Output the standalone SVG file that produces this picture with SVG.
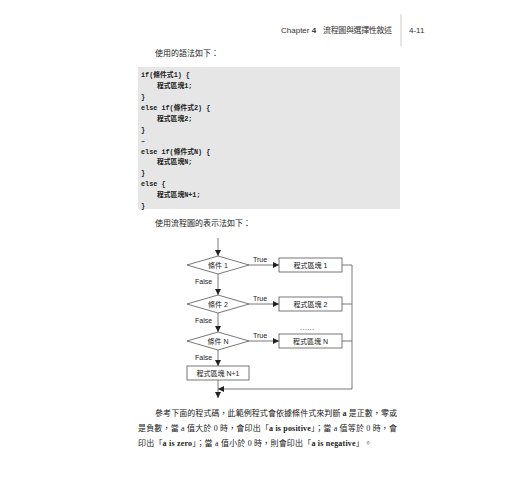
<svg xmlns="http://www.w3.org/2000/svg" width="520" height="500" viewBox="0 0 520 500">
<style>
.hdr{font-family:"Liberation Sans","Noto Sans CJK TC",sans-serif;font-size:8px;fill:#333}
.body{font-family:"Liberation Serif","Noto Sans CJK TC",serif;font-size:8px;fill:#222}
.code{font-family:"Liberation Mono","Noto Sans CJK TC",monospace;font-size:6.8px;font-weight:bold;fill:#222}
.lbl{font-family:"Liberation Sans","Noto Sans CJK TC",sans-serif;font-size:7px;fill:#222}
.shape{fill:#fff;stroke:#555;stroke-width:0.8}
.ln{fill:none;stroke:#555;stroke-width:0.8}
</style>
<defs>
<marker id="ah" viewBox="0 0 10 10" refX="10" refY="5" markerWidth="6" markerHeight="6" orient="auto" markerUnits="userSpaceOnUse">
<path d="M0,0 L10,5 L0,10 z" fill="#222"/>
</marker>
</defs>
<rect width="520" height="500" fill="#fff"/>
<!-- header -->
<text class="hdr" x="281" y="33">Chapter <tspan font-weight="bold">4</tspan></text>
<text class="hdr" x="323" y="33" textLength="69" lengthAdjust="spacing">流程圖與選擇性敘述</text>
<line x1="401" y1="14" x2="401" y2="46" stroke="#ccc" stroke-width="1"/>
<text class="hdr" x="409" y="33" font-size="6.5">4-11</text>
<text class="body" x="155" y="56">使用的語法如下：</text>
<!-- code box -->
<rect x="138" y="67" width="262" height="142" fill="#e6e6e6"/>
<g class="code">
<text x="141" y="77">if(條件式1) {</text>
<text x="157" y="88">程式區塊1;</text>
<text x="141" y="99">}</text>
<text x="141" y="110">else if(條件式2) {</text>
<text x="157" y="121">程式區塊2;</text>
<text x="141" y="132">}</text>
<text x="141" y="143">–</text>
<text x="141" y="154">else if(條件式N) {</text>
<text x="157" y="164">程式區塊N;</text>
<text x="141" y="175">}</text>
<text x="141" y="186">else {</text>
<text x="157" y="197">程式區塊N+1;</text>
<text x="141" y="208">}</text>
</g>
<text class="body" x="155" y="226">使用流程圖的表示法如下：</text>
<!-- connectors -->
<g id="connectors">
<line class="ln" x1="218" y1="238" x2="218" y2="256" marker-end="url(#ah)"/>
<line class="ln" x1="249" y1="265" x2="279" y2="265" marker-end="url(#ah)"/>
<line class="ln" x1="218" y1="274" x2="218" y2="295" marker-end="url(#ah)"/>
<line class="ln" x1="249" y1="304" x2="279" y2="304" marker-end="url(#ah)"/>
<line class="ln" x1="218" y1="313" x2="218" y2="332" marker-end="url(#ah)"/>
<line class="ln" x1="249" y1="341" x2="279" y2="341" marker-end="url(#ah)"/>
<line class="ln" x1="218" y1="350" x2="218" y2="366" marker-end="url(#ah)"/>
<line class="ln" x1="218" y1="380" x2="218" y2="398" marker-end="url(#ah)"/>
<polyline class="ln" points="342,265 352,265 352,389 218,389" marker-end="url(#ah)"/>
<line class="ln" x1="342" y1="304" x2="352" y2="304"/>
<line class="ln" x1="342" y1="341" x2="352" y2="341"/>
<text class="lbl" x="253" y="262">True</text>
<text class="lbl" x="253" y="301">True</text>
<text class="lbl" x="253" y="338">True</text>
<text class="lbl" x="195" y="284">False</text>
<text class="lbl" x="195" y="323">False</text>
<text class="lbl" x="195" y="360">False</text>
<text class="lbl" x="300" y="330" letter-spacing="0.5">......</text>
</g>
<g id="cond1">
<polygon class="shape" points="218,256 249,265 218,274 187,265"/>
<text class="lbl" x="218" y="268" text-anchor="middle">條件 1</text>
</g>
<g id="cond2">
<polygon class="shape" points="218,295 249,304 218,313 187,304"/>
<text class="lbl" x="218" y="307" text-anchor="middle">條件 2</text>
</g>
<g id="condN">
<polygon class="shape" points="218,332 249,341 218,350 187,341"/>
<text class="lbl" x="218" y="344" text-anchor="middle">條件 N</text>
</g>
<g id="block1">
<rect class="shape" x="279" y="258" width="63" height="14"/>
<text class="lbl" x="310.5" y="268" text-anchor="middle">程式區塊 1</text>
</g>
<g id="block2">
<rect class="shape" x="279" y="297" width="63" height="14"/>
<text class="lbl" x="310.5" y="307" text-anchor="middle">程式區塊 2</text>
</g>
<g id="blockN">
<rect class="shape" x="279" y="334" width="63" height="14"/>
<text class="lbl" x="310.5" y="344" text-anchor="middle">程式區塊 N</text>
</g>
<g id="blockN1">
<rect class="shape" x="187" y="366" width="62" height="14"/>
<text class="lbl" x="218" y="376" text-anchor="middle">程式區塊 N+1</text>
</g>
<!-- paragraph -->
<text class="body" x="155" y="416" textLength="242" lengthAdjust="spacing">參考下面的程式碼，此範例程式會依據條件式來判斷 <tspan font-weight="bold">a</tspan> 是正數，零或</text>
<text class="body" x="138" y="431" textLength="259" lengthAdjust="spacing">是負數，當 a 值大於 0 時，會印出「<tspan font-weight="bold">a is positive</tspan>」；當 a 值等於 0 時，會</text>
<text class="body" x="138" y="446" textLength="234" lengthAdjust="spacing">印出「<tspan font-weight="bold">a is zero</tspan>」；當 a 值小於 0 時，則會印出「<tspan font-weight="bold">a is negative</tspan>」。</text>
</svg>
